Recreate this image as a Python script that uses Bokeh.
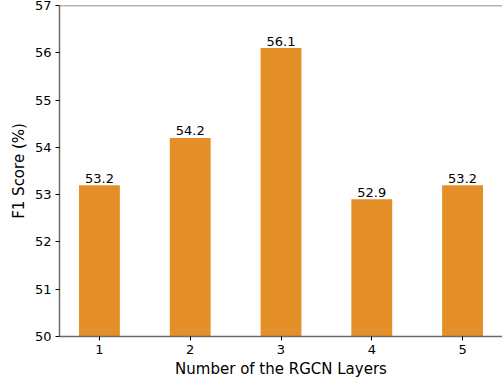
from bokeh.plotting import figure
from bokeh.models import Range1d, ColumnDataSource, Span, FixedTicker
from bokeh.core.properties import value
from bokeh.embed import file_html
from bokeh.resources import INLINE

layers = [1, 2, 3, 4, 5]
f1_scores = [53.2, 54.2, 56.1, 52.9, 53.2]
score_labels = ["53.2", "54.2", "56.1", "52.9", "53.2"]
y_ticks = [50, 51, 52, 53, 54, 55, 56, 57]

FONT = "DejaVu Sans"
BAR = "#E48F28"
SPINE = "#6b6b6b"

src = ColumnDataSource(dict(x=layers, top=f1_scores, lab=score_labels))

p = figure(width=502, height=380, output_backend="svg", toolbar_location=None,
           x_range=Range1d(0.56, 5.44), y_range=Range1d(50, 57),
           min_border_left=59, min_border_right=0, min_border_top=5, min_border_bottom=43)
p.outline_line_color = None
p.grid.grid_line_color = None
p.background_fill_color = "white"
p.border_fill_color = "white"

p.vbar(x="x", top="top", bottom=50, width=0.45, source=src, color=BAR, line_color=None)

p.text(x="x", y="top", text="lab", source=src, text_align="center",
       text_baseline="alphabetic", y_offset=-7, text_font=value(FONT),
       text_font_size=value("13px"), text_color="black")

p.add_layout(Span(location=57, dimension="width", line_color=SPINE, line_width=1.5))

for ax in (p.xaxis[0], p.yaxis[0]):
    ax.axis_line_color = SPINE
    ax.axis_line_width = 1.5
    ax.major_tick_in = 0
    ax.major_tick_out = 4
    ax.major_tick_line_color = "black"
    ax.minor_tick_line_color = None
    ax.major_label_text_font = FONT
    ax.major_label_text_font_size = "13px"
    ax.major_label_text_color = "black"
    ax.axis_label_text_font = FONT
    ax.axis_label_text_font_size = "15px"
    ax.axis_label_text_font_style = "normal"
    ax.axis_label_text_color = "black"

p.xaxis.ticker = FixedTicker(ticks=layers)
p.yaxis.ticker = FixedTicker(ticks=y_ticks)
p.xaxis.axis_label = "Number of the RGCN Layers"
p.yaxis.axis_label = "F1 Score (%)"
p.xaxis.major_label_standoff = 4
p.yaxis.major_label_standoff = 4
p.xaxis.axis_label_standoff = 3
p.yaxis.axis_label_standoff = 4

open("out.html", "w").write(file_html(p, INLINE))
